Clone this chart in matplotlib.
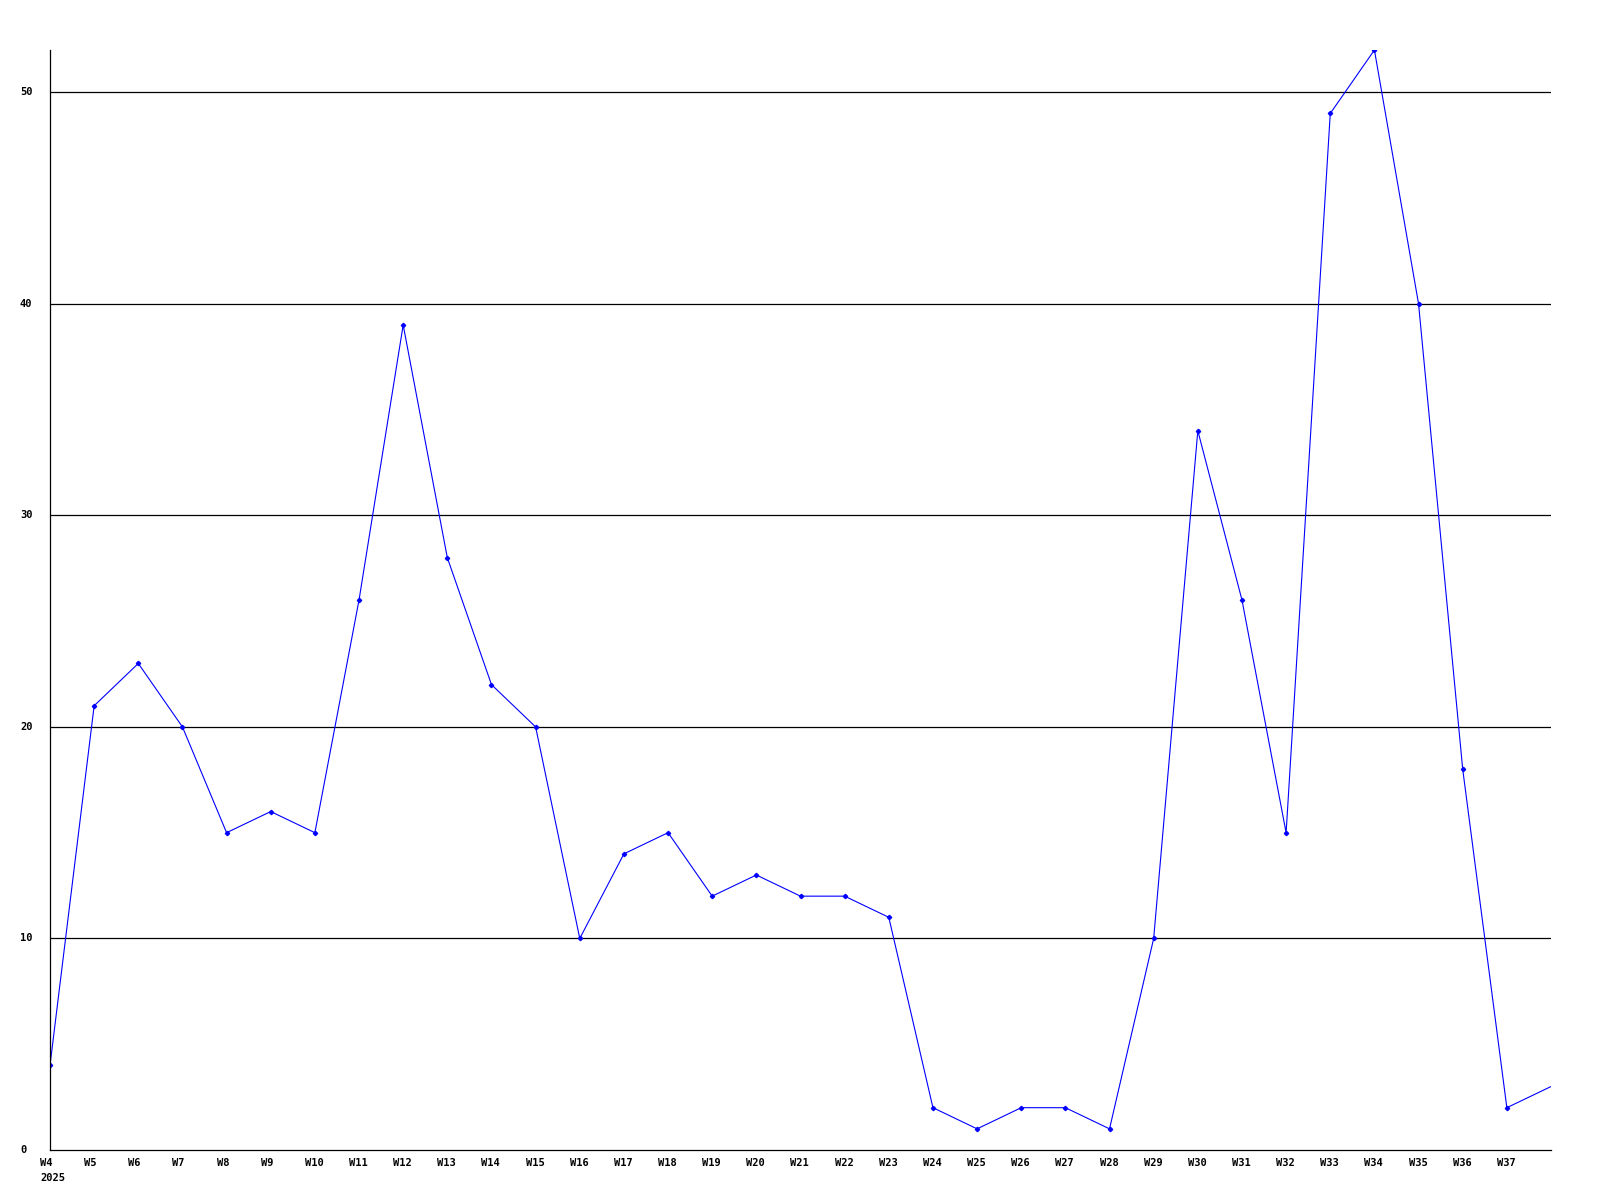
import matplotlib
matplotlib.use("Agg")
import matplotlib.pyplot as plt

# weekly counts, 2025
semanas = ["W4", "W5", "W6", "W7", "W8", "W9", "W10", "W11", "W12", "W13",
           "W14", "W15", "W16", "W17", "W18", "W19", "W20", "W21", "W22", "W23",
           "W24", "W25", "W26", "W27", "W28", "W29", "W30", "W31", "W32", "W33",
           "W34", "W35", "W36", "W37", "W38"]
valores = [4, 21, 23, 20, 15, 16, 15, 26, 39, 28,
           22, 20, 10, 14, 15, 12, 13, 12, 12, 11,
           2, 1, 2, 2, 1, 10, 34, 26, 15, 49,
           52, 40, 18, 2, 3]
yticks = [0, 10, 20, 30, 40, 50]

fonte = dict(family="DejaVu Sans Mono", weight="bold", size=7.5)

fig = plt.figure(figsize=(16, 12), dpi=100)
ax = fig.add_axes([50 / 1600, 1 - 1150 / 1200, 1501 / 1600, 1100 / 1200])

x = list(range(len(semanas)))
ax.plot(x, valores, color="#0000ff", linewidth=0.8)
ax.plot(x[:-1], valores[:-1], linestyle="none", marker="D",
        markersize=2.2, color="#0000ff")

ax.set_xlim(0, len(semanas) - 1)
ax.set_ylim(0, 52)

for v in yticks[1:]:
    ax.axhline(v, color="black", linewidth=0.9, zorder=0)

for s in ["top", "right"]:
    ax.spines[s].set_visible(False)
for s in ["left", "bottom"]:
    ax.spines[s].set_linewidth(0.9)

ax.set_xticks([])
ax.set_yticks([])

for i, s in enumerate(semanas[:-1]):
    ax.text(i - 10 / 44.1, -0.4, s, ha="left", va="top", **fonte)
ax.text(-10 / 44.1, -1.1, "2025", ha="left", va="top", **fonte)

for v in yticks:
    ax.text(-30 / 44.1, v, str(v), ha="left", va="center", **fonte)

fig.savefig("out.png", dpi=100)
plt.close(fig)
